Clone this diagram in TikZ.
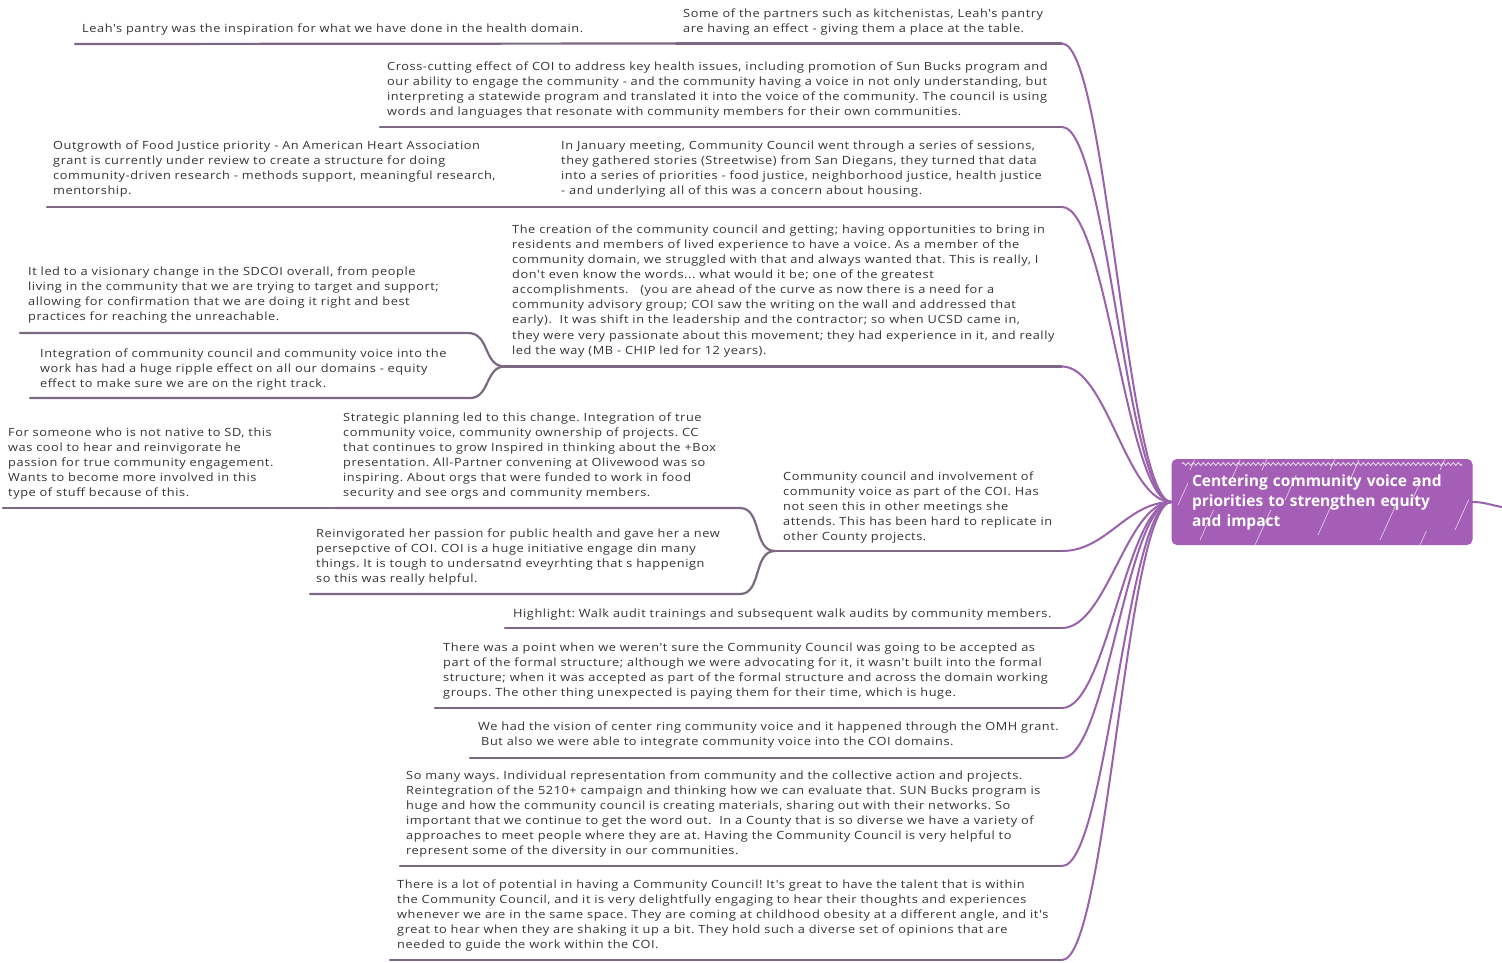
\documentclass[tikz,border=0pt]{standalone}
\usepackage{fontspec}
\setmainfont{Open Sans}
\newfontfamily\notefont{Open Sans}[FakeStretch=1.13,LetterSpace=5]
\usetikzlibrary{decorations.pathmorphing}
\frenchspacing
\definecolor{txt}{HTML}{353535}
\definecolor{uline}{HTML}{7D6884}
\definecolor{branch}{HTML}{9A62AC}
\definecolor{rootfill}{HTML}{A45EB6}
\tikzset{
  note/.style={anchor=north west, inner sep=0pt, align=left, text=txt,
    font=\notefont\fontsize{11.3}{15.1}\selectfont},
  uline/.style={draw=uline, line width=2.2pt, line cap=round},
  limb/.style={draw=branch, line width=2pt, line cap=round},
  hatch/.style={draw=white, line width=0.6pt, opacity=0.75, line cap=round},
  rootbox/.style={fill=rootfill, draw=rootfill, line width=1pt, rounded corners=5pt,
    minimum width=300pt, minimum height=85pt, text width=260pt, inner xsep=20pt,
    align=left, text=white, font=\fontsize{15.5}{20}\selectfont\bfseries},
}
\begin{document}
\begin{tikzpicture}[x=1pt,y=-1pt]
\useasboundingbox[fill=white] (0,0) rectangle (1502,962);

% central topic
\node[rootbox] (root) at (1322,502) {Centering community voice and\\priorities to strengthen equity\\and impact};
\begin{scope}
  \clip[rounded corners=5pt] (root.south west) rectangle (root.north east);
  \foreach \x/\y/\l in {1178/505/22, 1200/540/30, 1232/478/18, 1255/545/35, 1285/500/25,
      1318/535/28, 1350/480/20, 1380/540/34, 1410/505/24, 1440/470/16, 1455/530/30,
      1262/470/14, 1330/470/12, 1420/545/14, 1190/470/10}
    \draw[hatch] (\x,\y) -- ++(0.45*\l,-\l);
  \draw[white, line width=0.8pt, opacity=0.8, decorate,
    decoration={zigzag, segment length=5pt, amplitude=1.5pt}] (1182,464) -- (1462,464);
\end{scope}
\coordinate (tail) at (1502,507);
\draw[limb] (root.east) .. controls +(12,0) and +(-12,-2) .. (tail);

% notes
\node[note] (nA) at (683,8.5) {Some of the partners such as kitchenistas, Leah's pantry\\are having an effect - giving them a place at the table.};
\node[note] (nLeah) at (82,23.5) {Leah's pantry was the inspiration for what we have done in the health domain.};
\node[note] (nB) at (387,61.5) {Cross-cutting effect of COI to address key health issues, including promotion of Sun Bucks program and\\our ability to engage the community - and the community having a voice in not only understanding, but\\interpreting a statewide program and translated it into the voice of the community. The council is using\\words and languages that resonate with community members for their own communities.};
\node[note] (nC) at (561,140.5) {In January meeting, Community Council went through a series of sessions,\\they gathered stories (Streetwise) from San Diegans, they turned that data\\into a series of priorities - food justice, neighborhood justice, health justice\\- and underlying all of this was a concern about housing.};
\node[note] (nOut) at (53,140.5) {Outgrowth of Food Justice priority - An American Heart Association\\grant is currently under review to create a structure for doing\\community-driven research - methods support, meaningful research,\\mentorship.};
\node[note] (nD) at (512,224.5) {The creation of the community council and getting; having opportunities to bring in\\residents and members of lived experience to have a voice. As a member of the\\community domain, we struggled with that and always wanted that. This is really, I\\don't even know the words... what would it be; one of the greatest\\accomplishments.\ \ \ (you are ahead of the curve as now there is a need for a\\community advisory group; COI saw the writing on the wall and addressed that\\early).\ \ It was shift in the leadership and the contractor; so when UCSD came in,\\they were very passionate about this movement; they had experience in it, and really\\led the way (MB - CHIP led for 12 years).};
\node[note] (nLed) at (28,266.5) {It led to a visionary change in the SDCOI overall, from people\\living in the community that we are trying to target and support;\\allowing for confirmation that we are doing it right and best\\practices for reaching the unreachable.};
\node[note] (nInt) at (40,348.5) {Integration of community council and community voice into the\\work has had a huge ripple effect on all our domains - equity\\effect to make sure we are on the right track.};
\node[note] (nStrat) at (343,412.5) {Strategic planning led to this change. Integration of true\\community voice, community ownership of projects. CC\\that continues to grow Inspired in thinking about the +Box\\presentation. All-Partner convening at Olivewood was so\\inspiring. About orgs that were funded to work in food\\security and see orgs and community members.};
\node[note] (nSD) at (8,427.5) {For someone who is not native to SD, this\\was cool to hear and reinvigorate he\\passion for true community engagement.\\Wants to become more involved in this\\type of stuff because of this.};
\node[note] (nE) at (783,471.5) {Community council and involvement of\\community voice as part of the COI. Has\\not seen this in other meetings she\\attends. This has been hard to replicate in\\other County projects.};
\node[note] (nRe) at (316,528.5) {Reinvigorated her passion for public health and gave her a new\\persepctive of COI. COI is a huge initiative engage din many\\things. It is tough to undersatnd eveyrhting that s happenign\\so this was really helpful.};
\node[note] (nF) at (513,608.5) {Highlight: Walk audit trainings and subsequent walk audits by community members.};
\node[note] (nG) at (443,642.5) {There was a point when we weren't sure the Community Council was going to be accepted as\\part of the formal structure; although we were advocating for it, it wasn't built into the formal\\structure; when it was accepted as part of the formal structure and across the domain working\\groups. The other thing unexpected is paying them for their time, which is huge.};
\node[note] (nH) at (478,721.5) {We had the vision of center ring community voice and it happened through the OMH grant.\\\hspace{3pt}But also we were able to integrate community voice into the COI domains.};
\node[note] (nI) at (406,770.5) {So many ways. Individual representation from community and the collective action and projects.\\Reintegration of the 5210+ campaign and thinking how we can evaluate that. SUN Bucks program is\\huge and how the community council is creating materials, sharing out with their networks. So\\important that we continue to get the word out.\ \ In a County that is so diverse we have a variety of\\approaches to meet people where they are at. Having the Community Council is very helpful to\\represent some of the diversity in our communities.};
\node[note] (nJ) at (397,879.5) {There is a lot of potential in having a Community Council! It's great to have the talent that is within\\the Community Council, and it is very delightfully engaging to hear their thoughts and experiences\\whenever we are in the same space. They are coming at childhood obesity at a different angle, and it's\\great to hear when they are shaking it up a bit. They hold such a diverse set of opinions that are\\needed to guide the work within the COI.};

% underline ends
\coordinate (A-l) at (676,43.5);   \coordinate (A-r) at (1062,43.5);
\coordinate (Leah-l) at (75,44);
\coordinate (B-l) at (380,127);    \coordinate (B-r) at (1062,127);
\coordinate (C-l) at (555,207);    \coordinate (C-r) at (1062,207);
\coordinate (Out-l) at (47,207);
\coordinate (D-l) at (505,366.5);  \coordinate (D-r) at (1062,366.5);
\coordinate (Led-l) at (20,333);   \coordinate (Led-r) at (468,333);
\coordinate (Int-l) at (30,398);   \coordinate (Int-r) at (470,398);
\coordinate (Strat-l) at (335,508);\coordinate (Strat-r) at (740,508);
\coordinate (SD-l) at (3,508);
\coordinate (E-l) at (775,551);    \coordinate (E-r) at (1062,551);
\coordinate (Re-l) at (310,594);   \coordinate (Re-r) at (740,594);
\coordinate (F-l) at (505,628);    \coordinate (F-r) at (1062,628);
\coordinate (G-l) at (435,708);    \coordinate (G-r) at (1062,708);
\coordinate (H-l) at (470,758);    \coordinate (H-r) at (1062,758);
\coordinate (I-l) at (400,866);    \coordinate (I-r) at (1062,866);
\coordinate (J-l) at (390,960);    \coordinate (J-r) at (1062,960);

% underlines
\foreach \n in {A,B,C,D,E,F,G,H,I,J}
  \draw[uline] (\n-l) -- (\n-r);
\draw[uline] (Leah-l) -- (A-l);
\draw[uline] (Out-l) -- (C-l);
\draw[uline] (SD-l) -- (Strat-l);
\draw[uline] (Led-l) -- (Led-r) .. controls +(22,0) and +(-22,0) .. (D-l);
\draw[uline] (Int-l) -- (Int-r) .. controls +(20,0) and +(-20,0) .. (D-l);
\draw[uline] (Strat-l) -- (Strat-r) .. controls +(22,0) and +(-22,0) .. (E-l);
\draw[uline] (Re-l) -- (Re-r) .. controls +(22,0) and +(-22,0) .. (E-l);

% branches into the central topic
\foreach \n in {A,B,C,D,E,F,G,H,I,J}
  \draw[limb] (\n-r) .. controls +(45,0) and +(-45,0) .. (root.west);
\end{tikzpicture}
\end{document}
